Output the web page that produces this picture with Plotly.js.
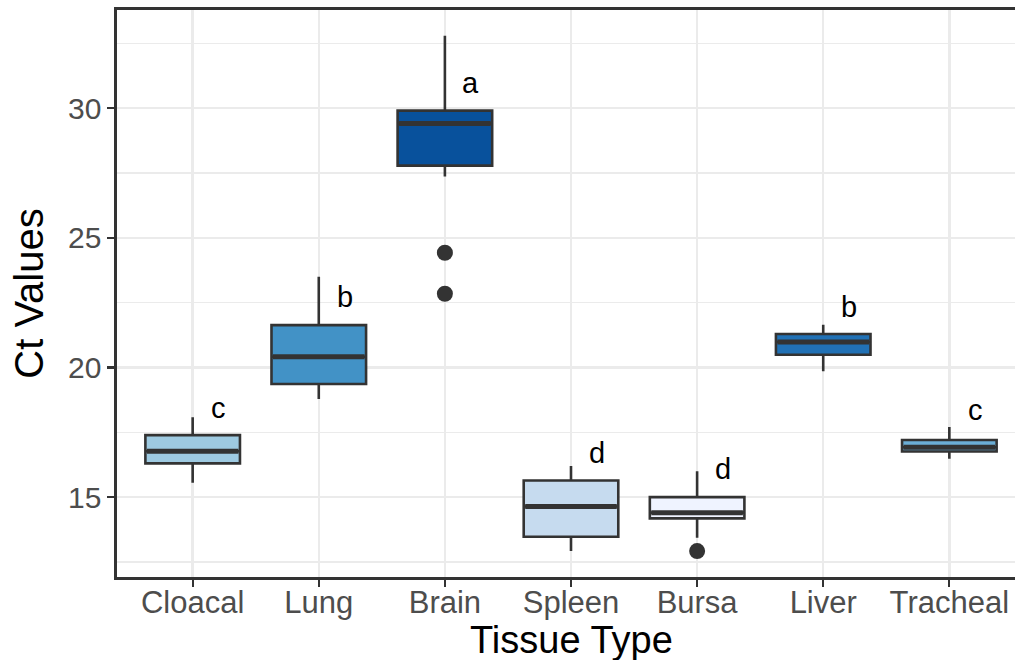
<!DOCTYPE html>
<html>
<head>
<meta charset="utf-8">
<script src="https://cdn.plot.ly/plotly-3.0.1.min.js"></script>
<style>
  html, body { margin: 0; padding: 0; background: #ffffff; overflow: hidden; }
  #chart { width: 1030px; height: 660px; }
</style>
</head>
<body>
<div id="chart"></div>
<script>
// Ct values by tissue type: box summaries, outliers and grouping letters
const tissues = ["Cloacal", "Lung", "Brain", "Spleen", "Bursa", "Liver", "Tracheal"];
const q1          = [16.30, 19.36, 27.78, 13.47, 14.18, 20.49, 16.76];
const medians     = [16.77, 20.41, 29.40, 14.64, 14.40, 20.98, 16.92];
const q3          = [17.39, 21.63, 29.90, 15.64, 15.00, 21.29, 17.20];
const lowerFences = [15.55, 18.78, 27.36, 12.92, 13.43, 19.85, 16.48];
const upperFences = [18.08, 23.50, 32.79, 16.20, 16.00, 21.65, 17.70];
const fills = ["#9ecae1", "#4292c6", "#08519c", "#c6dbef", "#eff3ff", "#2171b5", "#6baed6"];

const outlierTissue = ["Brain", "Brain", "Bursa"];
const outlierValues = [24.42, 22.84, 12.92];

const letters = ["c", "b", "a", "d", "d", "b", "c"];
const letterY = [18.44, 22.71, 30.98, 16.70, 16.07, 22.32, 18.35];

const yTicks = [15, 20, 25, 30];

const FONT = '"Liberation Sans", Arial, sans-serif';
const INK = "#333333";
const BOX_WIDTH = 0.75;
const LETTER_OFFSET = 0.205;

const traces = [];

tissues.forEach((name, i) => {
  traces.push({
    type: "box",
    name: name,
    x: [i],
    q1: [q1[i]],
    median: [medians[i]],
    q3: [q3[i]],
    lowerfence: [lowerFences[i]],
    upperfence: [upperFences[i]],
    width: BOX_WIDTH,
    whiskerwidth: 0,
    boxpoints: false,
    fillcolor: fills[i],
    line: { color: INK, width: 2.6 },
    hoverinfo: "skip",
    showlegend: false
  });
});

// Heavier median bars drawn over each box
const medX = [], medY = [];
tissues.forEach((name, i) => {
  medX.push(i - BOX_WIDTH / 2 + 0.012, i + BOX_WIDTH / 2 - 0.012, null);
  medY.push(medians[i], medians[i], null);
});
traces.push({
  type: "scatter",
  mode: "lines",
  x: medX,
  y: medY,
  line: { color: INK, width: 5 },
  hoverinfo: "skip",
  showlegend: false
});

// Outlying observations
traces.push({
  type: "scatter",
  mode: "markers",
  x: outlierTissue.map(t => tissues.indexOf(t)),
  y: outlierValues,
  marker: { color: INK, size: 16 },
  hoverinfo: "skip",
  showlegend: false
});

const annotations = letters.map((l, i) => ({
  x: i + LETTER_OFFSET,
  y: letterY[i],
  xref: "x",
  yref: "y",
  text: l,
  showarrow: false,
  xanchor: "center",
  yanchor: "middle",
  font: { family: FONT, size: 29, color: "#000000" }
}));

// x-axis title placed as a paper-anchored label below the tick labels
annotations.push({
  x: 0.5,
  y: -0.111,
  xref: "paper",
  yref: "paper",
  text: "Tissue Type",
  showarrow: false,
  xanchor: "center",
  yanchor: "middle",
  font: { family: FONT, size: 38, color: "#000000" }
});

const layout = {
  width: 1030,
  height: 660,
  margin: { l: 117, r: 5, t: 10, b: 83 },
  paper_bgcolor: "#ffffff",
  plot_bgcolor: "#ffffff",
  font: { family: FONT },
  showlegend: false,
  xaxis: {
    range: [-0.6, 6.6],
    tickmode: "array",
    tickvals: tissues.map((t, i) => i),
    ticktext: tissues,
    ticks: "outside",
    ticklen: 7,
    tickwidth: 2.2,
    tickcolor: INK,
    ticklabelstandoff: -11,
    tickfont: { family: FONT, size: 31, color: "#4d4d4d" },
    showgrid: true,
    gridcolor: "#ebebeb",
    gridwidth: 2.4,
    zeroline: false,
    showline: true,
    linecolor: INK,
    linewidth: 2.6,
    mirror: true
  },
  yaxis: {
    range: [11.92, 33.78],
    tickmode: "array",
    tickvals: yTicks,
    ticktext: yTicks.map(String),
    ticks: "outside",
    ticklen: 7,
    tickwidth: 2.2,
    tickcolor: INK,
    tickfont: { family: FONT, size: 30, color: "#4d4d4d" },
    showgrid: true,
    gridcolor: "#ebebeb",
    gridwidth: 2.4,
    minor: { tickvals: [12.5, 17.5, 22.5, 27.5, 32.5], showgrid: true, gridcolor: "#ebebeb", gridwidth: 1.3, ticks: "" },
    zeroline: false,
    showline: true,
    linecolor: INK,
    linewidth: 2.6,
    mirror: true,
    title: { text: "Ct Values", font: { family: FONT, size: 40, color: "#000000" }, standoff: 12 }
  },
  annotations: annotations
};

Plotly.newPlot("chart", traces, layout, { displayModeBar: false, staticPlot: true });
</script>
</body>
</html>
